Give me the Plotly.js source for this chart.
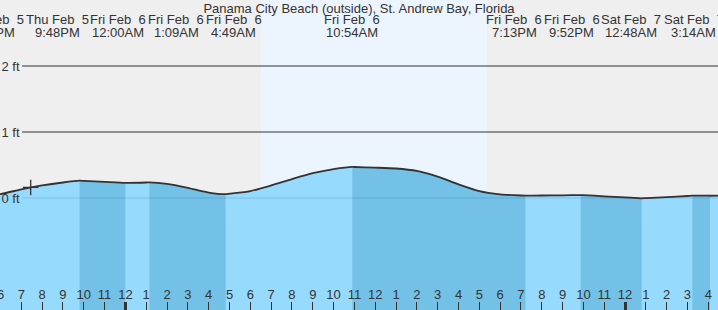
<!DOCTYPE html>
<html><head><meta charset="utf-8">
<script src="https://cdn.plot.ly/plotly-3.0.1.min.js"></script>
<style>html,body{margin:0;padding:0;background:#efefef;overflow:hidden}#chart{width:718px;height:310px}</style>
</head><body><div id="chart"></div>
<script>
const chartTitle = 'Panama City Beach (outside), St. Andrew Bay, Florida';

// hourly water level readings (ft)
const hourTimes = [
  '2026-02-05 18:00','2026-02-05 19:00','2026-02-05 20:00','2026-02-05 21:00','2026-02-05 22:00','2026-02-05 23:00',
  '2026-02-06 00:00','2026-02-06 01:00','2026-02-06 02:00','2026-02-06 03:00','2026-02-06 04:00','2026-02-06 05:00',
  '2026-02-06 06:00','2026-02-06 07:00','2026-02-06 08:00','2026-02-06 09:00','2026-02-06 10:00','2026-02-06 11:00',
  '2026-02-06 12:00','2026-02-06 13:00','2026-02-06 14:00','2026-02-06 15:00','2026-02-06 16:00','2026-02-06 17:00',
  '2026-02-06 18:00','2026-02-06 19:00','2026-02-06 20:00','2026-02-06 21:00','2026-02-06 22:00','2026-02-06 23:00',
  '2026-02-07 00:00','2026-02-07 01:00','2026-02-07 02:00','2026-02-07 03:00','2026-02-07 04:00','2026-02-07 04:30'
];
const hourHeights = [
  0.06, 0.13, 0.19, 0.235, 0.26, 0.245,
  0.23, 0.235, 0.215, 0.155, 0.083, 0.065,
  0.105, 0.19, 0.286, 0.376, 0.438, 0.47,
  0.46, 0.447, 0.41, 0.324, 0.206, 0.103,
  0.055, 0.038, 0.038, 0.041, 0.044, 0.026,
  0.009, -0.002, 0.014, 0.03, 0.035, 0.035
];

// tide events
const eventTimes = ['2026-02-05 17:32','2026-02-05 21:48','2026-02-06 00:00','2026-02-06 01:09','2026-02-06 04:49',
  '2026-02-06 10:54','2026-02-06 19:13','2026-02-06 21:52','2026-02-07 00:48','2026-02-07 03:14','2026-02-07 04:05'];
const eventTypes = ['L','H','L','H','L','H','L','H','L','H','L'];
const eventHeights = [0.045, 0.262, 0.23, 0.237, 0.058, 0.472, 0.036, 0.045, -0.005, 0.036, 0.034];
const eventDays = ['Thu Feb\u00a0\u00a05','Thu Feb\u00a0\u00a05','Fri Feb\u00a0\u00a06','Fri Feb\u00a0\u00a06','Fri Feb\u00a0\u00a06',
  'Fri Feb\u00a0\u00a06','Fri Feb\u00a0\u00a06','Fri Feb\u00a0\u00a06','Sat Feb\u00a0\u00a07','Sat Feb\u00a0\u00a07',''];
const eventClocks = ['5:32PM','9:48PM','12:00AM','1:09AM','4:49AM','10:54AM','7:13PM','9:52PM','12:48AM','3:14AM',''];

// current-time marker
const nowTime = ['2026-02-05 19:27'];
const nowHeight = [0.16];

// sun
const sunrise = '2026-02-06 06:31';
const sunset = '2026-02-06 17:22';

// axes
const xRange = ['2026-02-05 17:58:34', '2026-02-07 04:27:58'];
const yRange = [-1.697, 3.0];
const yTickVals = [0, 1, 2];
const yTickText = ['0 ft', '1 ft', '2 ft'];

// layout-only: label pixel offsets from their event
const labelShift = [2, -22, -7, 27, 8, 0, -11, -9, -11, 1.5, null];

// ---- build merged curve ----
const map = {};
hourTimes.forEach((t, i) => { map[t] = hourHeights[i]; });
eventTimes.forEach((t, i) => { map[t] = eventHeights[i]; });
const curveX = Object.keys(map).sort();
const curveY = curveX.map(t => map[t]);
const bottom = -1.9;

const LIGHT = '#96dbfd', DARK = '#73c1e6', INK = '#333333';
const lineShape = {shape: 'spline', smoothing: 0.6};

const traces = [];
traces.push({x: [curveX[0], curveX[curveX.length-1]], y: [bottom, bottom], mode: 'lines', line: {width: 0}, hoverinfo: 'skip', showlegend: false});
traces.push({x: curveX, y: curveY, mode: 'lines', fill: 'tonexty', fillcolor: LIGHT, line: Object.assign({width: 0, color: LIGHT}, lineShape), hoverinfo: 'skip', showlegend: false});

for (let i = 0; i < eventTimes.length - 1; i++) {
  if (eventTypes[i] !== 'H') continue;
  const a = eventTimes[i], b = eventTimes[i+1];
  const xs = [], ys = [];
  curveX.forEach((t, k) => { if (t >= a && t <= b) { xs.push(t); ys.push(curveY[k]); } });
  traces.push({x: [a, b], y: [bottom, bottom], mode: 'lines', line: {width: 0}, hoverinfo: 'skip', showlegend: false});
  traces.push({x: xs, y: ys, mode: 'lines', fill: 'tonexty', fillcolor: DARK, line: Object.assign({width: 0, color: DARK}, lineShape), hoverinfo: 'skip', showlegend: false});
}
traces.push({x: curveX, y: curveY, mode: 'lines', line: Object.assign({width: 1.8, color: INK}, lineShape), hoverinfo: 'skip', showlegend: false});
traces.push({x: nowTime, y: nowHeight, mode: 'markers', marker: {symbol: 'cross-thin', size: 11, color: INK, line: {width: 1.3, color: INK}}, hoverinfo: 'skip', showlegend: false});
traces.push({x: xRange, y: [null, null], xaxis: 'x2', mode: 'lines', hoverinfo: 'skip', showlegend: false});

// paper position of a time (so labels of events just outside the range still show)
const toMs = s => new Date(s.replace(' ', 'T')).getTime();
const r0 = toMs(xRange[0]), r1 = toMs(xRange[1]);
const toPaper = s => (toMs(s) - r0) / (r1 - r0);

const FONT = 'Liberation Sans, Arial, sans-serif';
const annotations = [];
eventTimes.forEach((t, i) => {
  if (labelShift[i] === null) return;
  annotations.push({x: toPaper(t), xref: 'paper', y: 1 - 20/310, yref: 'paper', text: eventDays[i], showarrow: false, xanchor: 'center', yanchor: 'middle', xshift: labelShift[i], font: {family: FONT, size: 13, color: INK}});
  annotations.push({x: toPaper(t), xref: 'paper', y: 1 - 32/310, yref: 'paper', text: eventClocks[i], showarrow: false, xanchor: 'center', yanchor: 'middle', xshift: labelShift[i], font: {family: FONT, size: 13, color: INK}});
});

const shapes = [{type: 'rect', xref: 'x', yref: 'paper', x0: sunrise, x1: sunset, y0: 0, y1: 1, fillcolor: '#ecf5fe', line: {width: 0}, layer: 'below'}];
yTickVals.forEach(v => {
  if (v === 0) {
    shapes.push({type: 'line', xref: 'paper', yref: 'y', x0: 22/718, x1: 1, y0: v, y1: v, line: {color: 'rgba(0,50,90,0.16)', width: 1.2}, layer: 'above'});
  } else {
    shapes.push({type: 'line', xref: 'paper', yref: 'y', x0: 22/718, x1: 1, y0: v, y1: v, line: {color: INK, width: 1.2}, layer: 'below'});
  }
});

const layout = {
  width: 718, height: 310,
  margin: {l: 0, r: 0, t: 0, b: 0, pad: 0},
  paper_bgcolor: '#efefef', plot_bgcolor: '#efefef',
  font: {family: FONT, size: 13, color: INK},
  title: {text: chartTitle, x: 0.5, xanchor: 'center', y: 1 - 8/310, yanchor: 'middle', font: {family: FONT, size: 13, color: INK}},
  showlegend: false,
  xaxis: {type: 'date', range: xRange, ticks: 'inside', ticklen: 8, tickwidth: 1, tickcolor: INK,
    dtick: 3600000, tick0: '2026-02-05 00:00', tickformat: '%-I', ticklabelposition: 'inside', ticklabeloverflow: 'allow',
    showgrid: false, zeroline: false, showline: false, tickfont: {family: FONT, size: 13, color: INK}, fixedrange: true},
  xaxis2: {type: 'date', overlaying: 'x', anchor: 'y', side: 'bottom', range: xRange, ticks: 'inside', ticklen: 8, tickwidth: 3, tickcolor: INK,
    dtick: 86400000, tick0: '2026-02-06 00:00', showticklabels: false, showgrid: false, zeroline: false, showline: false, fixedrange: true},
  yaxis: {range: yRange, tickvals: yTickVals, ticktext: yTickText, ticks: '', ticklabelposition: 'outside',
    anchor: 'free', position: 19.5/718, side: 'left',
    showgrid: false, zeroline: false, showline: false, tickfont: {family: FONT, size: 13, color: INK}, fixedrange: true},
  shapes: shapes,
  annotations: annotations
};

Plotly.newPlot('chart', traces, layout, {staticPlot: true, displayModeBar: false});
</script></body></html>
